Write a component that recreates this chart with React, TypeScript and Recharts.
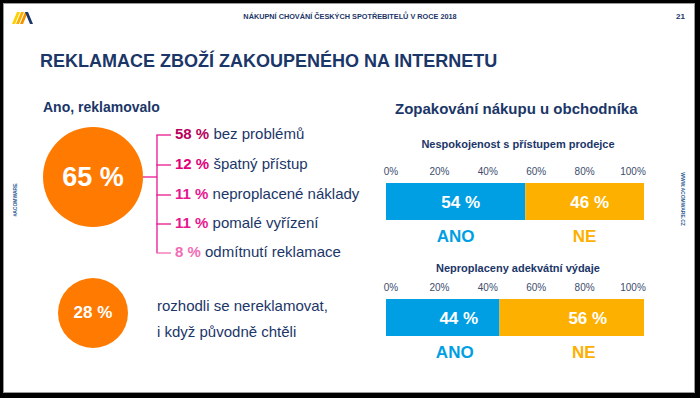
import React from 'react';
import { BarChart, Bar, XAxis, YAxis, LabelList } from 'recharts';

const groupTitles = ['Nespokojenost s přístupem prodejce', 'Neproplaceny adekvátní výdaje'];
const anoValues = [54, 44];
const neValues = [46, 56];
const axisTicks = [0, 20, 40, 60, 80, 100];

const reasonShares = [58, 12, 11, 11, 8];
const reasonLabels = ['bez problémů', 'špatný přístup', 'neproplacené náklady', 'pomalé vyřízení', 'odmítnutí reklamace'];
const reasonColors = ['#b8005c', '#e2007a', '#e8168f', '#e8168f', '#f26db5'];

const claimedShare = 65;
const notClaimedShare = 28;

const NAVY = '#1b3668';
const BLUE = '#009fe3';
const YELLOW = '#fdb000';
const ORANGE = '#ff7a00';
const FONT = '"Liberation Sans", Arial, sans-serif';

const PercentTick = (props: any) => {
    const { x, y, payload } = props;
    const v = payload.value;
    return (
        <text x={x} y={y} dx={5 - 0.16 * v} textAnchor="middle" fill="#3d4d6e" fontSize={10} fontFamily={FONT}>
            {v}%
        </text>
    );
};

interface ChoiceBarProps {
    index: number;
    top: number;
    titleTop: number;
    valueShift: number;
    nameShift: number;
}

const ChoiceBar = ({ index, top, titleTop, valueShift, nameShift }: ChoiceBarProps) => {
    const data = [{ name: groupTitles[index], ano: anoValues[index], ne: neValues[index] }];

    const valueLabel = (props: any) => {
        const { x, y, width, height, value } = props;
        return (
            <text
                x={x + width / 2 + valueShift}
                y={y + height / 2 + 6}
                textAnchor="middle"
                fill="#fff"
                fontSize={17}
                fontWeight="bold"
                fontFamily={FONT}
            >
                {value} %
            </text>
        );
    };

    const nameLabel = (text: string, color: string) => (props: any) => {
        const { x, y, width, height } = props;
        return (
            <text
                x={x + width / 2 + nameShift}
                y={y + height + 22}
                textAnchor="middle"
                fill={color}
                fontSize={17}
                fontWeight="bold"
                fontFamily={FONT}
            >
                {text}
            </text>
        );
    };

    return (
        <div style={{ position: 'absolute', left: 376, top }}>
            <div
                style={{
                    position: 'absolute',
                    left: 0,
                    width: 284,
                    top: titleTop,
                    textAlign: 'center',
                    color: NAVY,
                    fontWeight: 'bold',
                    fontSize: 11,
                    lineHeight: '14px',
                    fontFamily: FONT,
                }}
            >
                {groupTitles[index]}
            </div>
            <BarChart
                width={280}
                height={110}
                data={data}
                layout="vertical"
                barCategoryGap={0}
                margin={{ top: 21, right: 12, left: 10, bottom: 40 }}
            >
                <XAxis
                    type="number"
                    orientation="top"
                    domain={[0, 100]}
                    ticks={axisTicks}
                    height={12}
                    axisLine={false}
                    tickLine={false}
                    interval={0}
                    tick={<PercentTick />}
                />
                <YAxis type="category" dataKey="name" hide />
                <Bar dataKey="ano" stackId="a" fill={BLUE} isAnimationActive={false}>
                    <LabelList dataKey="ano" content={valueLabel} />
                    <LabelList dataKey="ano" content={nameLabel('ANO', BLUE)} />
                </Bar>
                <Bar dataKey="ne" stackId="a" fill={YELLOW} isAnimationActive={false}>
                    <LabelList dataKey="ne" content={valueLabel} />
                    <LabelList dataKey="ne" content={nameLabel('NE', YELLOW)} />
                </Bar>
            </BarChart>
        </div>
    );
};

const itemRows = [135, 165, 195, 224, 253];

export default function App() {
    return (
        <div
            style={{
                position: 'absolute',
                left: 0,
                top: 0,
                width: 700,
                height: 398,
                background: '#000',
                fontFamily: FONT,
                overflow: 'hidden',
            }}
        >
            <div
                style={{
                    position: 'absolute',
                    left: 3,
                    top: 3,
                    width: 690,
                    height: 388,
                    background: '#fff',
                    border: '1px solid #9a9a9a',
                }}
            />

            {/* logo */}
            <svg style={{ position: 'absolute', left: 12, top: 10 }} width={24} height={16}>
                <polygon points="0,14 3,14 8,2 5,2" fill="#ffd000" />
                <polygon points="4,14 7,14 12,2 9,2" fill="#fbb000" />
                <polygon points="8,14 11,14 16,2 13,2" fill="#f39200" />
                <polygon points="13,2 16,2 21,14 18,14" fill={NAVY} />
            </svg>

            <div style={{ position: 'absolute', left: 0, width: 700, top: 12, textAlign: 'center', fontSize: 7.3, fontWeight: 'bold', color: NAVY }}>
                NÁKUPNÍ CHOVÁNÍ ČESKÝCH SPOTŘEBITELŮ V ROCE 2018
            </div>
            <div style={{ position: 'absolute', left: 676, top: 12, fontSize: 8, fontWeight: 'bold', color: NAVY }}>21</div>

            <div style={{ position: 'absolute', left: 15, top: 200, transform: 'translate(-50%, -50%) rotate(-90deg)', fontSize: 5, fontWeight: 'bold', color: '#2d5a93', whiteSpace: 'nowrap' }}>
                #ACOMWARE
            </div>
            <div style={{ position: 'absolute', left: 683, top: 199, transform: 'translate(-50%, -50%) rotate(90deg)', fontSize: 5, fontWeight: 'bold', color: '#2d5a93', whiteSpace: 'nowrap' }}>
                WWW.ACOMWARE.CZ
            </div>

            <div style={{ position: 'absolute', left: 40, top: 51, fontSize: 18, fontWeight: 'bold', color: NAVY, whiteSpace: 'nowrap' }}>
                REKLAMACE ZBOŽÍ ZAKOUPENÉHO NA INTERNETU
            </div>

            <div style={{ position: 'absolute', left: 43, top: 99, fontSize: 14, fontWeight: 'bold', color: NAVY }}>Ano, reklamovalo</div>

            <div
                style={{
                    position: 'absolute',
                    left: 43,
                    top: 127,
                    width: 100,
                    height: 100,
                    borderRadius: '50%',
                    background: ORANGE,
                    color: '#fff',
                    fontSize: 27,
                    fontWeight: 'bold',
                    display: 'flex',
                    alignItems: 'center',
                    justifyContent: 'center',
                }}
            >
                {claimedShare} %
            </div>

            <svg style={{ position: 'absolute', left: 0, top: 0 }} width={700} height={398}>
                <line x1={143} y1={177} x2={157} y2={177} stroke="#e8168f" strokeWidth={1.3} />
                <line x1={157} y1={itemRows[0]} x2={157} y2={itemRows[4]} stroke="#e8168f" strokeWidth={1.3} />
                {itemRows.map((r, i) => (
                    <line key={i} x1={156.4} y1={r} x2={171} y2={r} stroke={i === 4 ? '#f26db5' : '#e8168f'} strokeWidth={1.3} />
                ))}
            </svg>

            {reasonShares.map((s, i) => (
                <div
                    key={i}
                    style={{ position: 'absolute', left: 175, top: itemRows[i] - 10, fontSize: 15, whiteSpace: 'nowrap', color: NAVY }}
                >
                    <span style={{ color: reasonColors[i], fontWeight: 'bold' }}>{s} %</span> {reasonLabels[i]}
                </div>
            ))}

            <div
                style={{
                    position: 'absolute',
                    left: 58,
                    top: 278,
                    width: 70,
                    height: 70,
                    borderRadius: '50%',
                    background: ORANGE,
                    color: '#fff',
                    fontSize: 17,
                    fontWeight: 'bold',
                    display: 'flex',
                    alignItems: 'center',
                    justifyContent: 'center',
                }}
            >
                {notClaimedShare} %
            </div>
            <div style={{ position: 'absolute', left: 157, top: 293, fontSize: 15, color: NAVY, lineHeight: '26px', whiteSpace: 'nowrap' }}>
                rozhodli se nereklamovat,
                <br />i když původně chtěli
            </div>

            <div style={{ position: 'absolute', left: 395, top: 100, fontSize: 15, fontWeight: 'bold', color: NAVY, whiteSpace: 'nowrap' }}>
                Zopakování nákupu u obchodníka
            </div>

            <ChoiceBar index={0} top={150} titleTop={-13} valueShift={5} nameShift={0} />
            <ChoiceBar index={1} top={266} titleTop={-5} valueShift={16} nameShift={12} />
        </div>
    );
}
